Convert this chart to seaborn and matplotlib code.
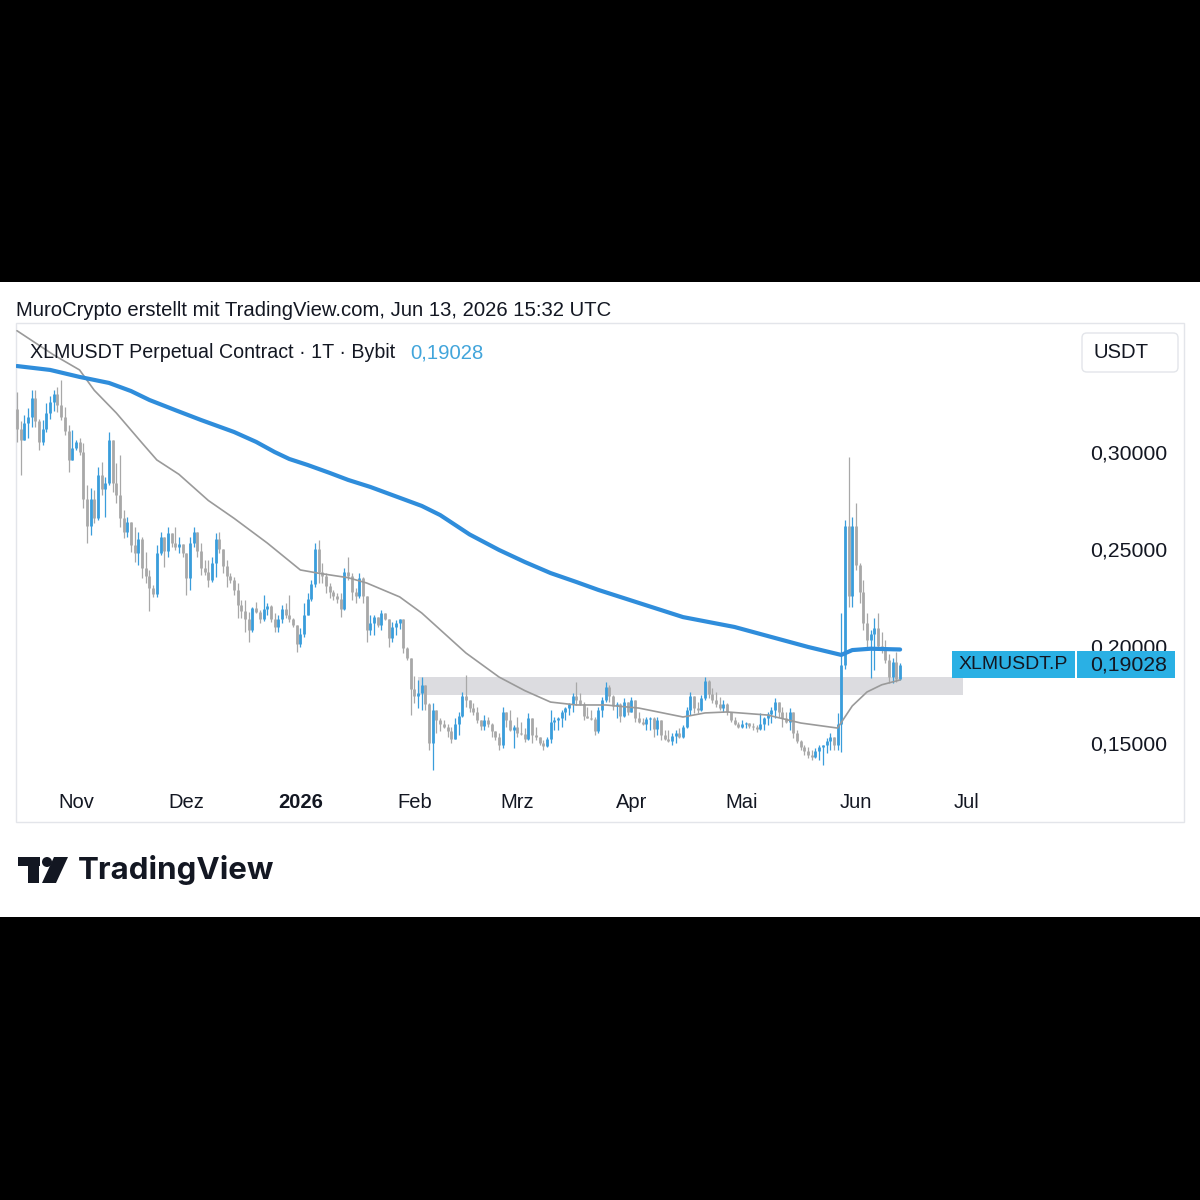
import numpy as np
import pandas as pd
import matplotlib
matplotlib.use("Agg")
import matplotlib.pyplot as plt
import matplotlib.patches as mpatches
from matplotlib.ticker import FuncFormatter
from matplotlib.transforms import blended_transform_factory
import seaborn as sns

# --- Data (daily candles, open = previous close) ---
START_DATE = "2025-10-16"
FIRST_OPEN = 0.322

closes = [
    0.312, 0.306, 0.315, 0.318, 0.328, 0.316, 0.305, 0.312, 0.320, 0.326,
    0.330, 0.324, 0.318, 0.311, 0.296, 0.302, 0.305, 0.300, 0.276, 0.262,
    0.276, 0.266, 0.288, 0.281, 0.284, 0.306, 0.284, 0.278, 0.266, 0.259,
    0.264, 0.252, 0.248, 0.255, 0.240, 0.236, 0.230, 0.227, 0.248, 0.256,
    0.249, 0.258, 0.253, 0.251, 0.2525, 0.248, 0.235, 0.253, 0.259, 0.249,
    0.240, 0.238, 0.234, 0.243, 0.255, 0.250, 0.241, 0.236, 0.234, 0.229,
    0.221, 0.218, 0.214, 0.208, 0.2195, 0.2175, 0.214, 0.219, 0.2205, 0.214,
    0.210, 0.214, 0.219, 0.216, 0.214, 0.211, 0.201, 0.206, 0.216, 0.224,
    0.232, 0.250, 0.238, 0.236, 0.231, 0.228, 0.226, 0.224, 0.219, 0.238,
    0.236, 0.228, 0.226, 0.235, 0.226, 0.208, 0.212, 0.215, 0.211, 0.217,
    0.214, 0.204, 0.210, 0.212, 0.214, 0.199, 0.194, 0.178, 0.174, 0.176,
    0.180, 0.170, 0.150, 0.167, 0.162, 0.160, 0.1585, 0.156, 0.152, 0.160,
    0.164, 0.174, 0.172, 0.168, 0.166, 0.162, 0.159, 0.162, 0.160, 0.156,
    0.153, 0.149, 0.166, 0.162, 0.1565, 0.1585, 0.155, 0.1545, 0.152, 0.163,
    0.154, 0.153, 0.150, 0.1485, 0.152, 0.161, 0.162, 0.163, 0.166, 0.168,
    0.170, 0.174, 0.172, 0.170, 0.164, 0.163, 0.1625, 0.156, 0.167, 0.172,
    0.179, 0.174, 0.169, 0.170, 0.164, 0.171, 0.166, 0.172, 0.163, 0.161,
    0.160, 0.1625, 0.163, 0.157, 0.162, 0.154, 0.152, 0.151, 0.1535, 0.155,
    0.153, 0.158, 0.167, 0.174, 0.168, 0.167, 0.173, 0.182, 0.175, 0.172,
    0.170, 0.168, 0.170, 0.166, 0.162, 0.160, 0.1585, 0.1598, 0.1605, 0.159,
    0.158, 0.157, 0.160, 0.163, 0.165, 0.167, 0.171, 0.166, 0.163, 0.161,
    0.166, 0.155, 0.151, 0.148, 0.146, 0.144, 0.143, 0.146, 0.148, 0.149,
    0.151, 0.153, 0.149, 0.160, 0.190, 0.262, 0.226, 0.262, 0.242, 0.228,
    0.212, 0.203, 0.206, 0.2095, 0.200, 0.199, 0.193, 0.184, 0.192, 0.183,
    0.19028,
]

highs = [
    0.331, 0.316, 0.319, 0.3225, 0.332, 0.332, 0.317, 0.3165, 0.325, 0.329,
    0.332, 0.3337, 0.3371, 0.3234, 0.3139, 0.3114, 0.3062, 0.3070, 0.3045, 0.2830,
    0.2813, 0.2804, 0.2924, 0.2950, 0.2873, 0.3105, 0.3036, 0.2941, 0.2985, 0.2701,
    0.2667, 0.2632, 0.2615, 0.2589, 0.2560, 0.2486, 0.2392, 0.2314, 0.2521, 0.2589,
    0.2560, 0.2615, 0.2581, 0.2615, 0.2563, 0.2525, 0.2478, 0.2563, 0.2615, 0.2590,
    0.2529, 0.2443, 0.2443, 0.2460, 0.2581, 0.2590, 0.2500, 0.2443, 0.2375, 0.2357,
    0.2323, 0.2237, 0.2237, 0.2177, 0.2203, 0.2229, 0.2185, 0.2263, 0.2220, 0.2210,
    0.2168, 0.2160, 0.2211, 0.2220, 0.2263, 0.2143, 0.2110, 0.2092, 0.2220, 0.2272,
    0.2340, 0.2529, 0.2546, 0.2426, 0.2375, 0.2323, 0.2289, 0.2272, 0.2272, 0.2400,
    0.2460, 0.2375, 0.2300, 0.2375, 0.2355, 0.2260, 0.2160, 0.2160, 0.2151, 0.2186,
    0.2170, 0.2140, 0.2126, 0.2134, 0.2140, 0.2140, 0.1997, 0.1940, 0.1843, 0.1825,
    0.1840, 0.1800, 0.1705, 0.1705, 0.1670, 0.1630, 0.1619, 0.1600, 0.1580, 0.1627,
    0.1662, 0.1764, 0.1850, 0.1722, 0.1705, 0.1687, 0.1620, 0.1644, 0.1636, 0.1601,
    0.1559, 0.1550, 0.1687, 0.1662, 0.1670, 0.1593, 0.1636, 0.1610, 0.1576, 0.1653,
    0.1630, 0.1584, 0.1533, 0.1515, 0.1533, 0.1670, 0.1636, 0.1636, 0.1670, 0.1687,
    0.1705, 0.1756, 0.1816, 0.1756, 0.1713, 0.1687, 0.1670, 0.1636, 0.1687, 0.1739,
    0.1816, 0.1799, 0.1747, 0.1713, 0.1704, 0.1730, 0.1713, 0.1739, 0.1720, 0.1661,
    0.1627, 0.1636, 0.1636, 0.1636, 0.1636, 0.1620, 0.1567, 0.1567, 0.1550, 0.1567,
    0.1576, 0.1593, 0.1687, 0.1764, 0.1739, 0.1713, 0.1747, 0.1842, 0.1825, 0.1782,
    0.1764, 0.1739, 0.1722, 0.1704, 0.1661, 0.1636, 0.1610, 0.1619, 0.1610, 0.1601,
    0.1601, 0.1593, 0.1653, 0.1636, 0.1661, 0.1687, 0.1730, 0.1710, 0.1687, 0.1661,
    0.1679, 0.1660, 0.1567, 0.1515, 0.1490, 0.1481, 0.1464, 0.1473, 0.1490, 0.1490,
    0.1524, 0.1550, 0.1533, 0.1653, 0.2170, 0.2650, 0.2974, 0.2665, 0.2737, 0.2430,
    0.2340, 0.2170, 0.2080, 0.2144, 0.2170, 0.2070, 0.2030, 0.1960, 0.1940, 0.1970,
    0.1910,
]

lows = [
    0.305, 0.288, 0.307, 0.307, 0.313, 0.313, 0.301, 0.3035, 0.3105, 0.317,
    0.321, 0.3208, 0.3165, 0.3088, 0.2899, 0.2973, 0.3010, 0.2985, 0.2710, 0.2529,
    0.2572, 0.2632, 0.2649, 0.2778, 0.2667, 0.2830, 0.2795, 0.2735, 0.2615, 0.2555,
    0.2564, 0.2486, 0.2435, 0.2417, 0.2349, 0.2323, 0.2180, 0.2254, 0.2250, 0.2469,
    0.2409, 0.2460, 0.2512, 0.2495, 0.2478, 0.2460, 0.2263, 0.2289, 0.2512, 0.2460,
    0.2366, 0.2366, 0.2306, 0.2330, 0.2357, 0.2478, 0.2375, 0.2306, 0.2323, 0.2263,
    0.2143, 0.2143, 0.2074, 0.2022, 0.2074, 0.2168, 0.2117, 0.2130, 0.2160, 0.2126,
    0.2074, 0.2074, 0.2117, 0.2143, 0.2126, 0.2100, 0.1971, 0.1997, 0.2048, 0.2160,
    0.2230, 0.2306, 0.2323, 0.2323, 0.2272, 0.2246, 0.2237, 0.2220, 0.2151, 0.2186,
    0.2340, 0.2237, 0.2220, 0.2246, 0.2220, 0.2022, 0.2057, 0.2057, 0.2100, 0.2082,
    0.2134, 0.1997, 0.2022, 0.2057, 0.2090, 0.1962, 0.1928, 0.1644, 0.1705, 0.1679,
    0.1670, 0.1670, 0.1464, 0.1361, 0.1550, 0.1560, 0.1576, 0.1533, 0.1499, 0.1520,
    0.1541, 0.1636, 0.1687, 0.1662, 0.1644, 0.1601, 0.1567, 0.1567, 0.1584, 0.1533,
    0.1515, 0.1464, 0.1473, 0.1584, 0.1560, 0.1473, 0.1533, 0.1541, 0.1507, 0.1515,
    0.1498, 0.1515, 0.1490, 0.1464, 0.1481, 0.1498, 0.1567, 0.1567, 0.1584, 0.1619,
    0.1644, 0.1661, 0.1696, 0.1696, 0.1619, 0.1627, 0.1619, 0.1541, 0.1550, 0.1636,
    0.1713, 0.1713, 0.1670, 0.1627, 0.1610, 0.1636, 0.1644, 0.1661, 0.1610, 0.1601,
    0.1593, 0.1567, 0.1567, 0.1533, 0.1541, 0.1515, 0.1515, 0.1507, 0.1490, 0.1498,
    0.1524, 0.1525, 0.1575, 0.1644, 0.1653, 0.1653, 0.1665, 0.1722, 0.1730, 0.1704,
    0.1687, 0.1670, 0.1661, 0.1644, 0.1610, 0.1593, 0.1576, 0.1576, 0.1576, 0.1576,
    0.1567, 0.1559, 0.1565, 0.1567, 0.1593, 0.1601, 0.1627, 0.1636, 0.1584, 0.1601,
    0.1567, 0.1524, 0.1498, 0.1464, 0.1438, 0.1421, 0.1412, 0.1425, 0.1412, 0.1387,
    0.1447, 0.1464, 0.1464, 0.1464, 0.1454, 0.1880, 0.2200, 0.2200, 0.2390, 0.2220,
    0.2080, 0.1995, 0.1835, 0.1876, 0.1980, 0.1964, 0.1912, 0.1810, 0.1810, 0.1815,
    0.1825,
]

# moving averages, read at a few days (offset in days from START_DATE)
ma_slow_days = [0, 9, 17, 25, 31, 36, 43, 50, 59, 65, 70, 74, 79, 85, 90, 96, 102,
                110, 115, 123, 131, 138, 145, 152, 158, 169, 181, 195, 208, 215, 224,
                227, 232, 240]
ma_slow = [0.3443, 0.3423, 0.3387, 0.3356, 0.3314, 0.3268, 0.3216, 0.3165, 0.3103,
           0.3052, 0.3000, 0.2964, 0.2933, 0.2892, 0.2856, 0.2820, 0.2778, 0.2722,
           0.2675, 0.2575, 0.2495, 0.2433, 0.2376, 0.2330, 0.2289, 0.2222, 0.2149,
           0.2098, 0.2031, 0.1995, 0.1954, 0.1979, 0.1986, 0.1982]

ma_fast_days = [0, 10, 17, 21, 27, 34, 38, 44, 52, 59, 68, 77, 82, 90, 95, 104, 110,
                116, 122, 131, 138, 145, 152, 160, 169, 181, 187, 193, 204, 213, 223,
                227, 231, 235, 240]
ma_fast = [0.3625, 0.3500, 0.3423, 0.3318, 0.3201, 0.3046, 0.2959, 0.2885, 0.2750,
           0.2658, 0.2531, 0.2392, 0.2375, 0.2352, 0.2325, 0.2253, 0.2170, 0.2067,
           0.1964, 0.1840, 0.1770, 0.1711, 0.1696, 0.1696, 0.1680, 0.1634, 0.1655,
           0.1660, 0.1644, 0.1603, 0.1577, 0.1691, 0.1763, 0.1800, 0.1825]

zone_start, zone_end = "2026-02-02", "2026-06-30"
zone_low, zone_high = 0.1747, 0.1840

month_ticks = ["2025-11-01", "2025-12-01", "2026-01-01", "2026-02-01", "2026-03-01",
               "2026-04-01", "2026-05-01", "2026-06-01", "2026-07-01"]
month_labels = ["Nov", "Dez", "2026", "Feb", "Mrz", "Apr", "Mai", "Jun", "Jul"]
price_ticks = [0.15, 0.20, 0.25, 0.30]

# --- Style ---
UP = "#3a9ddb"
DOWN = "#a8a8a8"
MA_SLOW_C = "#2f8ddb"
MA_FAST_C = "#9a9a9a"
TXT = "#131722"
TAG = "#2ab0e4"

sns.set_theme(style="white")
plt.rcParams["font.family"] = ["Liberation Sans", "DejaVu Sans"]

W, H = 1200, 1200


def fx(x):
    return x / W


def fy(y):
    return 1 - y / H


fig = plt.figure(figsize=(12, 12), dpi=100, facecolor="black")

# white card between the black bands
fig.add_artist(mpatches.Rectangle((0, fy(917)), 1, (917 - 282) / H, transform=fig.transFigure,
                                  facecolor="white", edgecolor="none", zorder=-2))
# chart panel border
fig.add_artist(mpatches.Rectangle((fx(16), fy(822)), (1184 - 16) / W, (822 - 323) / H,
                                  transform=fig.transFigure, facecolor="none",
                                  edgecolor="#e3e5ea", linewidth=1.0, zorder=-1))

ax = fig.add_axes([fx(16), fy(785), (1076 - 16) / W, (785 - 325) / H])
ax.set_facecolor("none")

dates = pd.date_range(START_DATE, periods=len(closes), freq="D")
c = np.array(closes)
o = np.array([FIRST_OPEN] + closes[:-1])
hi = np.maximum(np.array(highs), np.maximum(o, c))
lo = np.minimum(np.array(lows), np.minimum(o, c))
cols = [UP if cc >= oo else DOWN for oo, cc in zip(o, c)]

# support zone
ax.fill_between(pd.to_datetime([zone_start, zone_end]), zone_low, zone_high,
                color="#dcdce0", linewidth=0, zorder=1)

# candles: thin wick + narrow body
ax.vlines(dates.values, lo, hi, colors=cols, linewidth=0.9, zorder=2)
ax.vlines(dates.values, np.minimum(o, c), np.maximum(o, c), colors=cols, linewidth=2.0, zorder=2)

start = pd.Timestamp(START_DATE)
sns.lineplot(x=start + pd.to_timedelta(ma_fast_days, unit="D"), y=ma_fast, ax=ax,
             color=MA_FAST_C, linewidth=1.2, zorder=3)
sns.lineplot(x=start + pd.to_timedelta(ma_slow_days, unit="D"), y=ma_slow, ax=ax,
             color=MA_SLOW_C, linewidth=3.0, zorder=4)

ax.set_xlim(start - pd.Timedelta(days=0.27), start + pd.Timedelta(days=287.8))
ax.set_ylim(0.12835, 0.36546)

ax.set_xticks(pd.to_datetime(month_ticks))
ax.set_xticklabels(month_labels)
for lab in ax.get_xticklabels():
    if lab.get_text() == "2026":
        lab.set_fontweight("bold")
ax.tick_params(axis="x", length=0, pad=6, labelsize=14.5, labelcolor=TXT)

ax.yaxis.tick_right()
ax.set_yticks(price_ticks)
ax.yaxis.set_major_formatter(FuncFormatter(lambda v, pos: f"{v:.5f}".replace(".", ",")))
ax.tick_params(axis="y", length=0, pad=10, labelsize=15.3, labelcolor=TXT)
ax.set_xlabel("")
ax.set_ylabel("")
ax.grid(False)
for s in ax.spines.values():
    s.set_visible(False)

# last price tags
last_price = closes[-1]
price_txt = f"{last_price:.5f}".replace(".", ",")
tr = blended_transform_factory(ax.transAxes, ax.transData)
half = 13.5 / 1940
ax.add_patch(mpatches.Rectangle((0.8830, last_price - half), 0.9991 - 0.8830, 2 * half,
                                transform=tr, facecolor=TAG, edgecolor="none",
                                clip_on=False, zorder=6))
ax.add_patch(mpatches.Rectangle((1.0009, last_price - half), 1.0934 - 1.0009, 2 * half,
                                transform=tr, facecolor=TAG, edgecolor="none",
                                clip_on=False, zorder=6))
ax.text(0.9411, last_price, "XLMUSDT.P", transform=tr, ha="center", va="center",
        fontsize=14, color=TXT, zorder=7, clip_on=False)
ax.text(1.0132, last_price, price_txt, transform=tr, ha="left", va="center",
        fontsize=15.3, color=TXT, zorder=7, clip_on=False)

# header texts
fig.text(fx(16), fy(311), "MuroCrypto erstellt mit TradingView.com, Jun 13, 2026 15:32 UTC",
         fontsize=14.6, color=TXT, ha="left", va="center")
fig.text(fx(30), fy(353), "XLMUSDT Perpetual Contract · 1T · Bybit",
         fontsize=14.1, color=TXT, ha="left", va="center")
fig.text(fx(410), fy(353), price_txt, fontsize=14.6, color="#42a5db", ha="left", va="center")

# currency box
fig.add_artist(mpatches.FancyBboxPatch((fx(1082), fy(372)), (1178 - 1082) / W, (372 - 333) / H,
                                       boxstyle="round,pad=0,rounding_size=0.004",
                                       transform=fig.transFigure, facecolor="white",
                                       edgecolor="#e3e5ea", linewidth=1.0))
fig.text(fx(1121), fy(352), "USDT", fontsize=14.6, color=TXT, ha="center", va="center")

# TradingView logo
logo = TXT
fig.add_artist(mpatches.Rectangle((fx(18), fy(866)), 22 / W, 9 / H, transform=fig.transFigure,
                                  facecolor=logo, edgecolor="none"))
fig.add_artist(mpatches.Rectangle((fx(28), fy(883)), 11 / W, 26 / H, transform=fig.transFigure,
                                  facecolor=logo, edgecolor="none"))
fig.add_artist(mpatches.Ellipse((fx(47), fy(862)), 10 / W, 10 / H, transform=fig.transFigure,
                                facecolor=logo, edgecolor="none"))
fig.add_artist(mpatches.Polygon([(fx(54), fy(857)), (fx(68), fy(857)), (fx(56), fy(883)),
                                 (fx(42), fy(883))], closed=True, transform=fig.transFigure,
                                facecolor=logo, edgecolor="none"))
fig.text(fx(78), fy(870), "TradingView", fontsize=22.5, fontweight="bold", color=logo,
         ha="left", va="center", family=["Inter", "DejaVu Sans"])

fig.savefig("out.png", dpi=100, facecolor="black")
